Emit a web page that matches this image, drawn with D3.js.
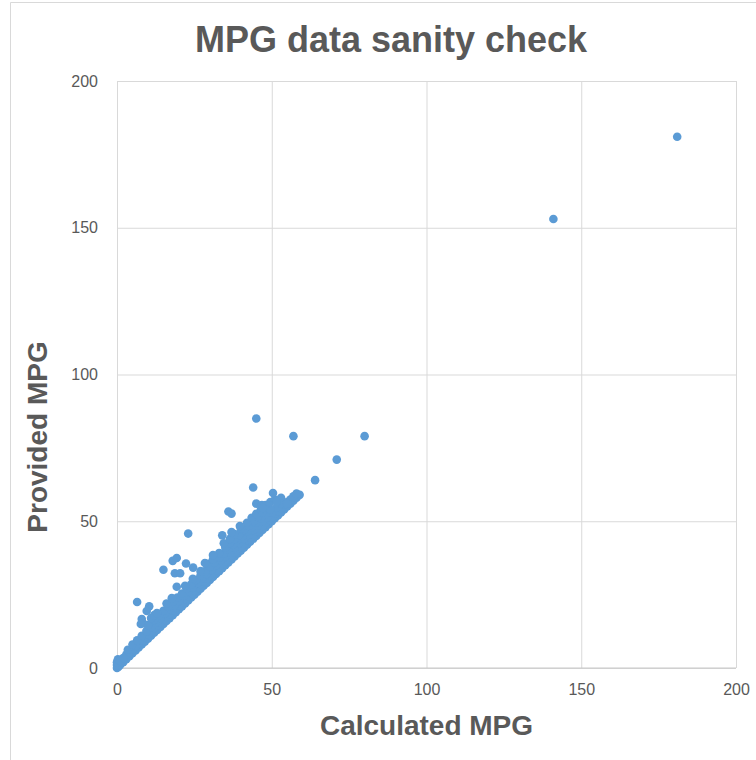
<!DOCTYPE html>
<html>
<head>
<meta charset="utf-8">
<script src="https://cdn.jsdelivr.net/npm/d3@7"></script>
<style>
  body { margin: 0; background: #fff; }
  text { font-family: "Liberation Sans", Arial, sans-serif; }
</style>
</head>
<body>
<div id="chart"></div>
<script>
// axis ticks
var xTicks = [0, 50, 100, 150, 200],
  yTicks = [0, 50, 100, 150, 200];

// dense band of points (calculated MPG, provided MPG)
var bandPoints = [
  // on the diagonal
  [0,0],[0.5,0.4],[1,1],[2,2],[3,3],[4,4],[5,5],[6,6],[7,7],[8,8],[9,9],[10,10],
  [11,11],[12,12],[13,13],[14,14],[15,15],[16,16],[17,17],[18,18],[19,19],[20,20],
  [21,21],[22,22],[23,23],[24,24],[25,25],[26,26],[27,27],[28,28],[29,29],[30,30],
  [31,31],[32,32],[33,33],[34,34],[35,35],[36,36],[37,37],[38,38],[39,39],[40,40],
  [41,41],[42,42],[43,43],[44,44],[45,45],[46,46],[47,47],[48,48],[49,49],[50,50],
  [51,51],[52,52],[53,53],[54,54],[55,55],[56,56],[57,57],[58,58],[59,59],
  // cluster at the origin
  [0,1],[0,2],[0.3,3],[1,2.5],
  // just above the diagonal
  [2,3.4],[3,4.6],[4,5.5],[5,6.4],[6,7.6],[7,8.5],[8,9.4],[9,10.6],[10,11.5],[11,12.4],
  [12,13.6],[13,14.5],[14,15.4],[15,16.6],[16,17.5],[17,18.4],[18,19.6],[19,20.5],
  [20,21.4],[21,22.6],[22,23.5],[23,24.4],[24,25.6],[25,26.5],[26,27.4],[27,28.6],
  [28,29.5],[29,30.4],[30,31.6],[31,32.5],[32,33.4],[33,34.6],[34,35.5],[35,36.4],
  [36,37.6],[37,38.5],[38,39.4],[39,40.6],[40,41.5],[41,42.4],[42,43.6],[43,44.5],
  [44,45.4],[45,46.6],[46,47.5],[47,48.4],[48,49.6],[49,50.5],[50,51.4],[51,52.6],
  [52,53.5],[53,54.4],[54,55.6],[55,56.5],[56,57.4],[57,58.5],[58,59.4],
  // second row
  [3.5,6.2],[5,8],[6.5,9.4],[8,11],[9.5,12.6],[11,14],[12.5,15.4],[14,17],[15.5,18.6],
  [17,20],[18.5,21.4],[20,23],[21.5,24.6],[23,26],[24.5,27.4],[26,29],[27.5,30.6],
  [29,32],[30.5,33.4],[32,35],[33.5,36.6],[35,38],[36.5,39.4],[38,41],[39.5,42.6],
  [41,44],[42.5,45.4],[44,47],[45.5,48.6],[47,50],[48.5,51.4],[50,53],[51.5,54.6],[53,56],
  // third row
  [10,14.6],[12,16.4],[13.5,18],[15,19.5],[16.5,21],[18,22.6],[19.5,24],[21,25.4],
  [22.5,27],[24,28.5],[25.5,30],[27,31.6],[28.5,33],[30,34.5],[31.5,36],[33,37.6],
  [34.5,39],[36,40.5],[37.5,42],[39,43.6],[40.5,45],[42,46.5],[43.5,48],[45,49.6],
  [46.5,51],[48,52.4],[49.5,54],
  // fourth row
  [22,28],[24.5,30.4],[27,33],[29.5,35.5],[31,37],[33,39.2],[35,41],[36.5,42.6],
  [38,44],[39.5,45.6],[41,47],[42.5,48.5],[44,50],[45.5,51.6],[47,53],
  // top of the band
  [34.5,42.5],[36.5,44],[38,45.6],[40,47.5],[42,49.5],[43.5,51.2],[45,52.5],[46.5,54],
  [48,55.5],[49.5,56.5],[51,57.4],[53,58],
  [11,17],[12,18],[16,22],[17.7,23.8],[19.3,27.7],[12.9,18.7],[8.4,15.3]
];

// points well away from the band
var outlierPoints = [
  [181,181],[141,153],[45,85],[57,79],[80,79],[71,71],[64,64],[44,61.5],[50.4,59.6],
  [45,56],[46.8,55.5],[51.6,56.6],[55,56],[47,54.5],[39.7,48.4],[37,46.3],
  [23,45.8],[36,53.3],[37,52.6],[34,45.2],[31,38.5],[28.4,35.8],[24.6,34.2],
  [22.3,35.6],[18.7,32.3],[20.4,32.3],[18,36.5],[19.3,37.5],[15,33.5],
  [6.5,22.5],[10.4,21],[9.6,19.4],[8,16.7],[7.7,15]
];

var margin = {top: 81, right: 20, bottom: 92, left: 117},
  width = 756 - margin.left - margin.right,
  height = 760 - margin.top - margin.bottom;

var textColor = "#595959",
  gridColor = "#d9d9d9",
  dotColor = "#5b9bd5";

var svg = d3.select("#chart")
  .append("svg")
  .attr("width", 756)
  .attr("height", 760);

// chart frame
svg.append("path")
  .attr("d", "M10.5,760 L10.5,2.5 L756,2.5")
  .attr("fill", "none")
  .attr("stroke", gridColor);

var g = svg.append("g")
  .attr("transform", "translate(" + margin.left + "," + margin.top + ")");

var xScale = d3.scaleLinear().domain([0, 200]).range([0, width]),
  yScale = d3.scaleLinear().domain([0, 200]).range([height, 0]);

// gridlines + tick labels
var xAxis = g.append("g")
  .attr("transform", "translate(0," + height + ")")
  .call(d3.axisBottom(xScale).tickValues(xTicks).tickSize(-height).tickPadding(16));

var yAxis = g.append("g")
  .call(d3.axisLeft(yScale).tickValues(yTicks).tickSize(-width).tickPadding(19));

[xAxis, yAxis].forEach(function(ax) {
  ax.select(".domain").remove();
  ax.selectAll("line").attr("stroke", gridColor).attr("stroke-width", 1);
  ax.selectAll("text")
    .attr("fill", textColor)
    .style("font-size", "16px");
});

// bottom axis line is a touch darker
g.append("line")
  .attr("x1", 0).attr("x2", width)
  .attr("y1", yScale(0)).attr("y2", yScale(0))
  .attr("stroke", "#c8c8c8");

// points
var allPoints = bandPoints.concat(outlierPoints);
g.selectAll("circle")
  .data(allPoints)
  .enter().append("circle")
  .attr("cx", function(d) { return xScale(d[0]); })
  .attr("cy", function(d) { return yScale(d[1]); })
  .attr("r", 4.3)
  .attr("fill", dotColor);

// title and axis titles
svg.append("text")
  .attr("x", 391)
  .attr("y", 52)
  .attr("text-anchor", "middle")
  .attr("fill", textColor)
  .style("font-size", "36px")
  .style("font-weight", "bold")
  .text("MPG data sanity check");

svg.append("text")
  .attr("x", margin.left + width / 2)
  .attr("y", 735)
  .attr("text-anchor", "middle")
  .attr("fill", textColor)
  .style("font-size", "28px")
  .style("font-weight", "bold")
  .text("Calculated MPG");

svg.append("text")
  .attr("transform", "translate(47,437) rotate(-90)")
  .attr("text-anchor", "middle")
  .attr("fill", textColor)
  .style("font-size", "28px")
  .style("font-weight", "bold")
  .text("Provided MPG");
</script>
</body>
</html>
